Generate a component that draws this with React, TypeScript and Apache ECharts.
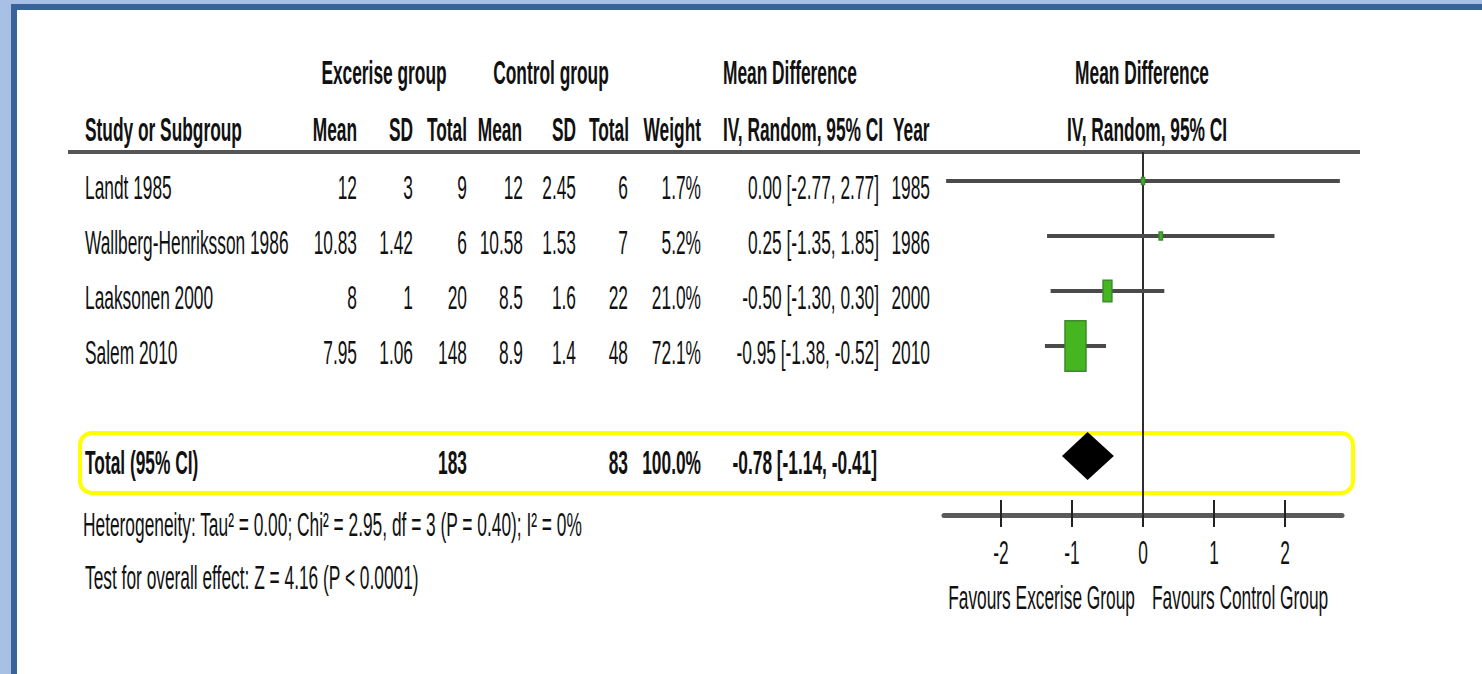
import React, { useEffect, useRef } from "react";
import * as echarts from "echarts";

// ---- Study data -----------------------------------------------------------
const studies = ["Landt 1985", "Wallberg-Henriksson 1986", "Laaksonen 2000", "Salem 2010"];
const exerciseMean = [12, 10.83, 8, 7.95];
const exerciseSD = [3, 1.42, 1, 1.06];
const exerciseN = [9, 6, 20, 148];
const controlMean = [12, 10.58, 8.5, 8.9];
const controlSD = [2.45, 1.53, 1.6, 1.4];
const controlN = [6, 7, 22, 48];
const weights = [1.7, 5.2, 21.0, 72.1];
const meanDiff = [0.0, 0.25, -0.5, -0.95];
const ciLow = [-2.77, -1.35, -1.3, -1.38];
const ciHigh = [2.77, 1.85, 0.3, -0.52];
const years = [1985, 1986, 2000, 2010];

// Pooled estimate
const totalLabel = "Total (95% CI)";
const totalWeight = 100.0;
const pooledMD = -0.78;
const pooledLow = -1.14;
const pooledHigh = -0.41;

const heterogeneityText = "Heterogeneity: Tau² = 0.00; Chi² = 2.95, df = 3 (P = 0.40); I² = 0%";
const overallEffectText = "Test for overall effect: Z = 4.16 (P < 0.0001)";

// Axis
const axisTicks = [-2, -1, 0, 1, 2];
const axisMin = -2.8;
const axisMax = 2.8;
const favoursLeft = "Favours Excerise Group";
const favoursRight = "Favours Control Group";

// ---- Layout ---------------------------------------------------------------
const FONT = "'Liberation Sans', Arial, sans-serif";
const FS = 34;
const SX = 0.51;
const ROW_PX = 55;
const GRID_TOP = 152;
const GRID_BOTTOM = 515;
const FIRST_ROW_PX = 181;
const yMin = -(FIRST_ROW_PX - GRID_TOP) / ROW_PX;
const yMax = yMin + (GRID_BOTTOM - GRID_TOP) / ROW_PX;
const totalRow = studies.length + 1;

const fmt2 = (v: number) => v.toFixed(2);
const ciText = (m: number, l: number, h: number) => `${fmt2(m)} [${fmt2(l)}, ${fmt2(h)}]`;
const sum = (a: number[]) => a.reduce((s, v) => s + v, 0);

function txt(text: string, x: number, y: number, align = "left", bold = false) {
  return {
    type: "text",
    x,
    y,
    scaleX: SX,
    silent: true,
    style: {
      text,
      fontSize: FS,
      fontFamily: FONT,
      fontWeight: bold ? "bold" : "normal",
      fill: "#111",
      align,
      verticalAlign: "middle",
    },
  };
}

export default function App() {
  const ref = useRef<HTMLDivElement>(null);

  useEffect(() => {
    if (!ref.current) return;
    const chart = echarts.init(ref.current, undefined, { renderer: "svg" });

    const ciData = studies.map((_, i) => [ciLow[i], ciHigh[i], i]);
    const boxData = studies.map((_, i) => [meanDiff[i], i, weights[i]]);
    const maxW = Math.max(...weights);

    const option: any = {
      animation: false,
      backgroundColor: "#ffffff",
      grid: { left: 944, width: 398, top: GRID_TOP, height: GRID_BOTTOM - GRID_TOP },
      xAxis: [
        {
          // main axis with ticks hanging below the line
          type: "value",
          min: axisMin,
          max: axisMax,
          position: "bottom",
          axisLine: { show: true, onZero: false, lineStyle: { color: "#5a5a5a", width: 5 } },
          axisTick: { show: true, customValues: axisTicks, length: 12, lineStyle: { color: "#222", width: 2 } },
          axisLabel: { show: false },
          splitLine: { show: false },
        },
        {
          // twin axis moved onto the bottom line, ticks pointing upward
          type: "value",
          min: axisMin,
          max: axisMax,
          position: "top",
          offset: -(GRID_BOTTOM - GRID_TOP),
          axisLine: { show: false },
          axisTick: { show: true, customValues: axisTicks, length: 15, lineStyle: { color: "#222", width: 2 } },
          axisLabel: { show: false },
          splitLine: { show: false },
        },
      ],
      yAxis: { type: "value", inverse: true, min: yMin, max: yMax, show: false },
      series: [
        {
          // line of no effect
          type: "custom",
          clip: false,
          silent: true,
          data: [[0]],
          renderItem: (_p: any, api: any) => {
            const a = api.coord([api.value(0), yMin]);
            const b = api.coord([api.value(0), yMax]);
            return {
              type: "line",
              shape: { x1: a[0], y1: a[1], x2: b[0], y2: b[1] },
              style: { stroke: "#2e2e2e", lineWidth: 2 },
            };
          },
        },
        {
          // confidence intervals
          type: "custom",
          clip: false,
          silent: true,
          data: ciData,
          renderItem: (_p: any, api: any) => {
            const a = api.coord([api.value(0), api.value(2)]);
            const b = api.coord([api.value(1), api.value(2)]);
            return {
              type: "line",
              shape: { x1: a[0], y1: a[1], x2: b[0], y2: b[1] },
              style: { stroke: "#4a4a4a", lineWidth: 4 },
            };
          },
        },
        {
          // study estimates, sized by weight
          type: "custom",
          clip: false,
          silent: true,
          data: boxData,
          renderItem: (_p: any, api: any) => {
            const c = api.coord([api.value(0), api.value(1)]);
            const w = Math.max(3, 21 * Math.pow(api.value(2) / maxW, 0.7));
            const h = w * 2.4;
            return {
              type: "rect",
              shape: { x: c[0] - w / 2, y: c[1] - h / 2, width: w, height: h },
              style: { fill: "#45b520", stroke: "#3f8a2f", lineWidth: 1.5 },
            };
          },
        },
        {
          // pooled diamond
          type: "custom",
          clip: false,
          silent: true,
          data: [[pooledLow, pooledMD, pooledHigh, totalRow]],
          renderItem: (_p: any, api: any) => {
            const l = api.coord([api.value(0), api.value(3)]);
            const m = api.coord([api.value(1), api.value(3)]);
            const r = api.coord([api.value(2), api.value(3)]);
            const hh = 24;
            return {
              type: "polygon",
              shape: { points: [[l[0], l[1]], [m[0], m[1] - hh], [r[0], r[1]], [m[0], m[1] + hh]] },
              style: { fill: "#000" },
            };
          },
        },
      ],
    };
    chart.setOption(option);

    const rowY = (i: number) => (chart.convertToPixel({ yAxisIndex: 0 }, i) as number) + 7;
    const xPx = (v: number) => chart.convertToPixel({ xAxisIndex: 0 }, v) as number;
    const zeroPx = xPx(0);

    const g: any[] = [];
    // frame
    g.push({ type: "rect", silent: true, shape: { x: 0, y: 0, width: 1482, height: 4 }, style: { fill: "#a8bfe6" } });
    g.push({ type: "rect", silent: true, shape: { x: 0, y: 0, width: 11, height: 674 }, style: { fill: "#a8bfe6" } });
    g.push({ type: "rect", silent: true, shape: { x: 11, y: 4, width: 1471, height: 6 }, style: { fill: "#3a6399" } });
    g.push({ type: "rect", silent: true, shape: { x: 11, y: 4, width: 6, height: 670 }, style: { fill: "#3a6399" } });

    // header
    const h1 = 73;
    const h2 = 130;
    g.push(txt("Excerise group", 384, h1, "center", true));
    g.push(txt("Control group", 551, h1, "center", true));
    g.push(txt("Mean Difference", 723, h1, "left", true));
    g.push(txt("Mean Difference", 1142, h1, "center", true));
    g.push(txt("Study or Subgroup", 85, h2, "left", true));
    g.push(txt("Mean", 357, h2, "right", true));
    g.push(txt("SD", 413, h2, "right", true));
    g.push(txt("Total", 467, h2, "right", true));
    g.push(txt("Mean", 522, h2, "right", true));
    g.push(txt("SD", 576, h2, "right", true));
    g.push(txt("Total", 629, h2, "right", true));
    g.push(txt("Weight", 701, h2, "right", true));
    g.push(txt("IV, Random, 95% CI", 723, h2, "left", true));
    g.push(txt("Year", 893, h2, "left", true));
    g.push(txt("IV, Random, 95% CI", 1147, h2, "center", true));
    g.push({
      type: "line",
      silent: true,
      shape: { x1: 68, y1: GRID_TOP, x2: 1360, y2: GRID_TOP },
      style: { stroke: "#555", lineWidth: 4 },
    });

    // study rows
    studies.forEach((s, i) => {
      const y = rowY(i);
      g.push(txt(s, 85, y, "left"));
      g.push(txt(String(exerciseMean[i]), 357, y, "right"));
      g.push(txt(String(exerciseSD[i]), 413, y, "right"));
      g.push(txt(String(exerciseN[i]), 467, y, "right"));
      g.push(txt(String(controlMean[i]), 523, y, "right"));
      g.push(txt(String(controlSD[i]), 576, y, "right"));
      g.push(txt(String(controlN[i]), 628, y, "right"));
      g.push(txt(weights[i].toFixed(1) + "%", 701, y, "right"));
      g.push(txt(ciText(meanDiff[i], ciLow[i], ciHigh[i]), 879, y, "right"));
      g.push(txt(String(years[i]), 930, y, "right"));
    });

    // total row
    const ty = rowY(totalRow);
    g.push(txt(totalLabel, 85, ty, "left", true));
    g.push(txt(String(sum(exerciseN)), 467, ty, "right", true));
    g.push(txt(String(sum(controlN)), 628, ty, "right", true));
    g.push(txt(totalWeight.toFixed(1) + "%", 701, ty, "right", true));
    g.push(txt(ciText(pooledMD, pooledLow, pooledHigh), 877, ty, "right", true));
    g.push({
      type: "rect",
      silent: true,
      shape: { x: 80, y: 433, width: 1273, height: 60, r: 12 },
      style: { fill: "none", stroke: "#ffff00", lineWidth: 4 },
    });

    // footnotes
    g.push(txt(heterogeneityText, 83, 525, "left"));
    g.push(txt(overallEffectText, 85, 578, "left"));

    // axis labels
    axisTicks.forEach((t) => g.push(txt(String(t), xPx(t), 553, "center")));
    g.push(txt(favoursLeft, zeroPx - 8, 598, "right"));
    g.push(txt(favoursRight, zeroPx + 9, 598, "left"));

    chart.setOption({ graphic: g });

    return () => chart.dispose();
  }, []);

  return <div ref={ref} style={{ position: "fixed", left: 0, top: 0, width: 1482, height: 674 }} />;
}
